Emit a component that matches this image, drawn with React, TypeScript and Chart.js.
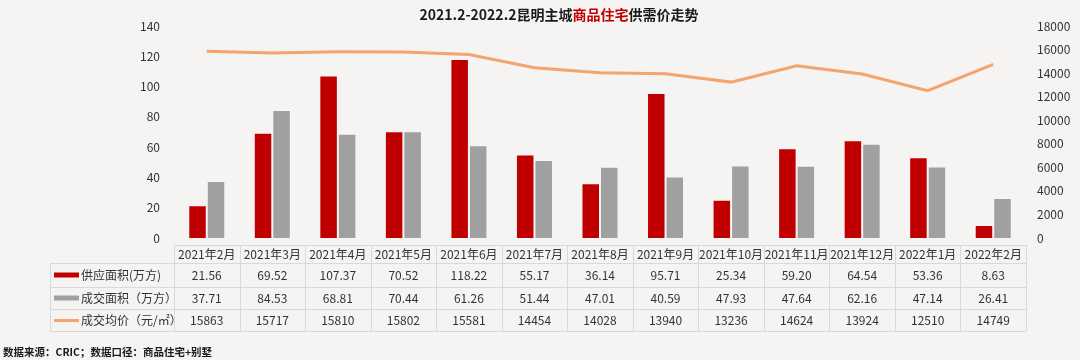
import React, { useEffect, useRef } from "react";
import { Chart, registerables } from "chart.js";

Chart.register(...registerables);

const categories = ["2021年2月", "2021年3月", "2021年4月", "2021年5月", "2021年6月", "2021年7月", "2021年8月", "2021年9月", "2021年10月", "2021年11月", "2021年12月", "2022年1月", "2022年2月"];
const supplyArea = [21.56, 69.52, 107.37, 70.52, 118.22, 55.17, 36.14, 95.71, 25.34, 59.2, 64.54, 53.36, 8.63];
const dealArea = [37.71, 84.53, 68.81, 70.44, 61.26, 51.44, 47.01, 40.59, 47.93, 47.64, 62.16, 47.14, 26.41];
const avgPrice = [15863, 15717, 15810, 15802, 15581, 14454, 14028, 13940, 13236, 14624, 13924, 12510, 14749];
const seriesNames = ["供应面积(万方)", "成交面积（万方）", "成交均价（元/㎡）"];
const titleParts = [
  { text: "2021.2-2022.2昆明主城", color: "#1a1a1a" },
  { text: "商品住宅", color: "#c00000" },
  { text: "供需价走势", color: "#1a1a1a" },
];
const footnote = "数据来源：CRIC；数据口径：商品住宅+别墅";

const RED = "#c00000";
const GRAY = "#a0a0a0";
const ORANGE = "#f4a46c";
const TEXT = "#333333";
const FONT = '"Noto Sans CJK SC", "Noto Sans", sans-serif';

const tablePlugin = {
  id: "tablePlugin",
  afterDraw(chart: any) {
    const ctx: CanvasRenderingContext2D = chart.ctx;
    const xs = chart.scales.x;
    const area = chart.chartArea;
    ctx.save();
    // Title
    ctx.font = `bold 14px ${FONT}`;
    ctx.textBaseline = "middle";
    ctx.textAlign = "left";
    const total = titleParts.reduce((s, p) => s + ctx.measureText(p.text).width, 0);
    let tx = 559 - total / 2;
    for (const p of titleParts) {
      ctx.fillStyle = p.color;
      ctx.fillText(p.text, tx, 15);
      tx += ctx.measureText(p.text).width;
    }

    // Table
    const n = categories.length;
    const colW = (area.right - area.left) / n;
    const left = area.left;
    const right = area.right;
    const labelLeft = 50;
    const rowsY = [245, 263, 287, 309, 331];
    ctx.strokeStyle = "#d9d9d9";
    ctx.lineWidth = 1;
    ctx.beginPath();
    ctx.moveTo(left, rowsY[0] + 0.5);
    ctx.lineTo(right, rowsY[0] + 0.5);
    for (let r = 1; r < rowsY.length; r++) {
      ctx.moveTo(labelLeft, rowsY[r] + 0.5);
      ctx.lineTo(right, rowsY[r] + 0.5);
    }
    for (let c = 0; c <= n; c++) {
      const x = Math.round(left + c * colW) + 0.5;
      ctx.moveTo(x, rowsY[0]);
      ctx.lineTo(x, rowsY[4]);
    }
    ctx.moveTo(labelLeft + 0.5, rowsY[1]);
    ctx.lineTo(labelLeft + 0.5, rowsY[4]);
    ctx.stroke();

    ctx.fillStyle = TEXT;
    ctx.textAlign = "center";
    ctx.font = `12px ${FONT}`;
    const rowText = [
      categories,
      supplyArea.map((v) => v.toFixed(2)),
      dealArea.map((v) => v.toFixed(2)),
      avgPrice.map((v) => String(v)),
    ];
    for (let r = 0; r < 4; r++) {
      const cy = (rowsY[r] + rowsY[r + 1]) / 2 + 0.5;
      for (let i = 0; i < n; i++) {
        const cx = xs.getPixelForValue(i);
        ctx.fillText(rowText[r][i], cx, cy);
      }
    }
    ctx.textAlign = "left";
    for (let r = 0; r < 3; r++) {
      const cy = (rowsY[r + 1] + rowsY[r + 2]) / 2 + 0.5;
      if (r === 0) {
        ctx.fillStyle = RED;
        ctx.fillRect(54, cy - 3, 25, 5);
      } else if (r === 1) {
        ctx.fillStyle = GRAY;
        ctx.fillRect(54, cy - 3, 25, 5);
      } else {
        ctx.fillStyle = ORANGE;
        ctx.fillRect(54, cy - 1.5, 25, 3);
      }
      ctx.fillStyle = TEXT;
      ctx.fillText(seriesNames[r], 81, cy);
    }

    ctx.font = `bold 10.5px ${FONT}`;
    ctx.fillStyle = "#1a1a1a";
    ctx.fillText(footnote, 3, 352);
    ctx.restore();
  },
};

export default function App() {
  const ref = useRef<HTMLCanvasElement | null>(null);
  useEffect(() => {
    if (!ref.current) return;
    const tickFont = { family: FONT, size: 12 };
    const chart = new Chart(ref.current, {
      type: "bar",
      data: {
        labels: categories,
        datasets: [
          {
            type: "line",
            label: seriesNames[2],
            data: avgPrice,
            yAxisID: "y1",
            borderColor: ORANGE,
            backgroundColor: ORANGE,
            borderWidth: 3,
            pointRadius: 0,
            tension: 0,
            order: 0,
          } as any,
          {
            label: seriesNames[0],
            data: supplyArea,
            yAxisID: "y",
            backgroundColor: RED,
            borderColor: "rgba(255,255,255,0.25)",
            borderWidth: 1,
            categoryPercentage: 0.565,
            barPercentage: 1,
            order: 1,
          },
          {
            label: seriesNames[1],
            data: dealArea,
            yAxisID: "y",
            backgroundColor: GRAY,
            borderColor: "rgba(255,255,255,0.25)",
            borderWidth: 1,
            categoryPercentage: 0.565,
            barPercentage: 1,
            order: 1,
          },
        ],
      },
      options: {
        animation: false,
        responsive: false,
        maintainAspectRatio: false,
        layout: { padding: { top: 26, bottom: 122, left: 0, right: 0 } },
        plugins: { legend: { display: false }, tooltip: { enabled: false }, title: { display: false } },
        scales: {
          x: { display: false },
          y: {
            position: "left",
            min: 0,
            max: 140,
            ticks: { stepSize: 20, padding: 14, font: tickFont, color: TEXT },
            grid: { display: false, drawTicks: false },
            border: { display: false },
            afterFit(s: any) {
              s.width = 174;
            },
          },
          y1: {
            position: "right",
            min: 0,
            max: 18000,
            ticks: {
              stepSize: 2000,
              padding: 11,
              font: tickFont,
              color: TEXT,
              callback: (v: any) => String(v),
            },
            grid: { display: false, drawTicks: false },
            border: { display: false },
            afterFit(s: any) {
              s.width = 54;
            },
          },
        },
      },
      plugins: [tablePlugin],
    });
    return () => chart.destroy();
  }, []);
  return (
    <div style={{ position: "absolute", left: 0, top: 0, width: 1080, height: 360, background: "#f5f4f2" }}>
      <canvas ref={ref} width={1080} height={360} style={{ display: "block" }} />
    </div>
  );
}
